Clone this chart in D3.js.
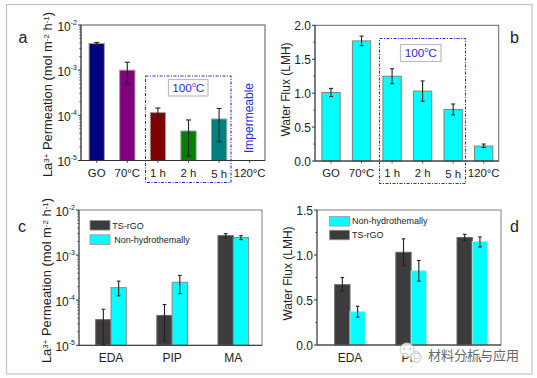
<!DOCTYPE html>
<html>
<head>
<meta charset="utf-8">
<script src="https://cdn.jsdelivr.net/npm/d3@7"></script>
<style>
  html, body { margin: 0; padding: 0; background: #fff; }
  svg { display: block; }
  text { font-family: "Liberation Sans", Arial, sans-serif; fill: #222; }
</style>
</head>
<body>
<svg id="fig" width="537" height="378"></svg>
<script>
const tempLabels = ["GO", "70\u00b0C", "1 h", "2 h", "5 h", "120\u00b0C"];
const tempColors = ["#000080", "#800080", "#800000", "#008000", "#008080"];

// panel a
const permValues = [3.9e-3, 1.0e-3, 1.15e-4, 4.5e-5, 8.3e-5];
const permLow = [3.7e-3, 5.0e-4, 8.7e-5, 1.25e-5, 2.6e-5];
const permHigh = [4.1e-3, 1.5e-3, 1.45e-4, 7.9e-5, 1.42e-4];

// panel b
const fluxValues = [1.01, 1.77, 1.25, 1.03, 0.76, 0.22];
const fluxLow = [0.95, 1.70, 1.14, 0.88, 0.68, 0.20];
const fluxHigh = [1.07, 1.84, 1.36, 1.18, 0.84, 0.25];

// panel c
const monomers = ["EDA", "PIP", "MA"];
const cRgo = [3.7e-5, 4.6e-5, 2.7e-3];
const cRgoLow = [1.05e-5, 1.25e-5, 2.4e-3];
const cRgoHigh = [6.3e-5, 8.0e-5, 3.0e-3];
const cNon = [1.9e-4, 2.5e-4, 2.45e-3];
const cNonLow = [1.25e-4, 1.4e-4, 2.2e-3];
const cNonHigh = [2.65e-4, 3.55e-4, 2.7e-3];

// panel d
const dRgo = [0.67, 1.03, 1.195];
const dRgoLow = [0.60, 0.88, 1.16];
const dRgoHigh = [0.75, 1.18, 1.23];
const dNon = [0.37, 0.825, 1.15];
const dNonLow = [0.31, 0.71, 1.09];
const dNonHigh = [0.43, 0.94, 1.20];

const cyan = "#00ffff";
const dark = "#3c3c3c";
const blue = "#2a2ae0";
const permLabel = [["La"], ["3+", 1], [" Permeation (mol m"], ["-2", 1], [" h"], ["-1", 1], [")"]];
const svg = d3.select("#fig");

svg.append("rect").attr("x", 6.5).attr("y", 4.5).attr("width", 525.5).attr("height", 369.5)
  .attr("fill", "none").attr("stroke", "#c4c4c4").attr("stroke-width", 1.2);

function superLabel(g, x, y, parts, size, rotate) {
  const t = g.append("text").attr("font-size", size)
    .attr("transform", `translate(${x},${y})` + (rotate ? " rotate(-90)" : ""))
    .attr("text-anchor", "middle");
  parts.forEach(p => {
    const s = t.append("tspan").text(p[0]);
    if (p[1]) s.attr("font-size", size * 0.62).attr("baseline-shift", "42%");
  });
  return t;
}

function ticks(g, y, x0, majors, minors) {
  g.selectAll(null).data(minors).join("line")
    .attr("x1", x0 - 1.8).attr("x2", x0)
    .attr("y1", d => y(d)).attr("y2", d => y(d))
    .attr("stroke", "#333").attr("stroke-width", 0.7);
  g.selectAll(null).data(majors).join("line")
    .attr("x1", x0 - 3).attr("x2", x0)
    .attr("y1", d => y(d)).attr("y2", d => y(d))
    .attr("stroke", "#333").attr("stroke-width", 1);
}

function logAxis(g, y, x0) {
  const majors = [1e-5, 1e-4, 1e-3, 1e-2];
  const minors = [];
  for (const m of majors.slice(0, 3)) for (let k = 2; k < 10; k++) minors.push(m * k);
  ticks(g, y, x0, majors, minors);
  majors.forEach(m => {
    const t = g.append("text").attr("x", x0 - 4).attr("y", y(m) + 5.5).attr("text-anchor", "end").attr("font-size", 12);
    t.append("tspan").text("10");
    t.append("tspan").text(Math.round(Math.log10(m))).attr("font-size", 7).attr("dy", -6);
  });
}

function linAxis(g, y, x0, majors, minors, fmt) {
  ticks(g, y, x0, majors, minors);
  g.selectAll("text.tick").data(majors).join("text")
    .attr("class", "tick")
    .attr("x", x0 - 4).attr("y", d => y(d) + 4.5)
    .attr("text-anchor", "end").attr("font-size", 12)
    .text(fmt);
}

function frame(g, x0, x1, y0, y1, color) {
  g.append("rect").attr("x", x0).attr("y", y1).attr("width", x1 - x0).attr("height", y0 - y1)
    .attr("fill", "none").attr("stroke", color).attr("stroke-width", 1);
  g.append("line").attr("x1", x0).attr("x2", x0).attr("y1", y0).attr("y2", y1).attr("stroke", "#444").attr("stroke-width", 1);
  g.append("line").attr("x1", x0).attr("x2", x1).attr("y1", y0).attr("y2", y0).attr("stroke", "#333").attr("stroke-width", 1);
}

function xTicks(g, xs, n, y0) {
  g.selectAll(null).data(d3.range(n)).join("line")
    .attr("x1", d => xs(d)).attr("x2", d => xs(d))
    .attr("y1", y0).attr("y2", y0 + 2.5)
    .attr("stroke", "#333").attr("stroke-width", 0.8);
}

function errors(g, xs, y, lows, highs, cap) {
  const sel = g.selectAll(null).data(lows.map((l, i) => ({ l, h: highs[i], x: xs(i) }))).join("g");
  sel.append("line").attr("x1", d => d.x).attr("x2", d => d.x).attr("y1", d => y(d.l)).attr("y2", d => y(d.h))
    .attr("stroke", "#222").attr("stroke-width", 1.1);
  [d => d.l, d => d.h].forEach(f => {
    sel.append("line").attr("x1", d => d.x - cap).attr("x2", d => d.x + cap)
      .attr("y1", d => y(f(d))).attr("y2", d => y(f(d)))
      .attr("stroke", "#222").attr("stroke-width", 1.1);
  });
}

function bars(g, xs, width, y, values, color, stroke) {
  g.selectAll(null).data(values).join("rect")
    .attr("x", (d, i) => xs(i) - width / 2).attr("width", width)
    .attr("y", d => y(d)).attr("height", d => y.range()[0] - y(d))
    .attr("fill", (d, i) => typeof color === "function" ? color(i) : color)
    .attr("stroke", stroke).attr("stroke-width", 1);
}

function xLabels(g, xs, labels, y, size) {
  g.selectAll(null).data(labels).join("text")
    .attr("x", (d, i) => xs(i)).attr("y", (d, i) => typeof y === "function" ? y(i) : y)
    .attr("text-anchor", "middle").attr("font-size", size).text(d => d);
}

function boxed(g, x, y, w, h) {
  g.append("rect").attr("x", x).attr("y", y).attr("width", w).attr("height", h)
    .attr("fill", "none").attr("stroke", blue).attr("stroke-width", 1.1).attr("stroke-dasharray", "3,1.5,1,1.5");
}

function tempTag(g, x, y, w, h) {
  g.append("rect").attr("x", x).attr("y", y).attr("width", w).attr("height", h)
    .attr("fill", "#fff").attr("stroke", "#bdbdbd").attr("stroke-width", 1.2);
  const t = g.append("text").attr("x", x + w / 2).attr("y", y + h - 4.5).attr("text-anchor", "middle").attr("font-size", 11.8);
  t.append("tspan").text("100").style("fill", blue);
  t.append("tspan").text("o").attr("font-size", 7).attr("dy", -5).style("fill", blue);
  t.append("tspan").text("C").attr("dy", 5).style("fill", blue);
}

function legend(g, x, items) {
  items.forEach(it => {
    g.append("rect").attr("x", x).attr("y", it.y).attr("width", 20).attr("height", 9.6)
      .attr("fill", it.color).attr("stroke", "#999").attr("stroke-width", 0.8);
    g.append("text").attr("x", x + it.tx).attr("y", it.y + it.by).attr("font-size", 9).text(it.label);
  });
}

// panel a
{
  const g = svg.append("g");
  const x0 = 81, x1 = 265, y0 = 160.5, y1 = 25;
  const y = d3.scaleLog().domain([1e-5, 1e-2]).range([y0, y1]);
  const xs = d3.scaleLinear().domain([0, 5]).range([96.7, 249.7]);
  bars(g, xs, 15.3, y, permValues, i => tempColors[i], "#a0a0a0");
  frame(g, x0, x1, y0, y1, "#555");
  logAxis(g, y, x0);
  xTicks(g, xs, 6, y0);
  errors(g, xs, y, permLow, permHigh, 2.5);
  xLabels(g, xs, tempLabels, i => i === 4 ? 177.5 : 176.5, 11.4);
  boxed(g, 145.5, 76, 85.5, 106.5);
  tempTag(g, 168.5, 79.5, 39.5, 16.5);
  g.append("text").attr("transform", "translate(252.5,118) rotate(-90)").attr("text-anchor", "middle")
    .attr("font-size", 12).style("fill", blue).text("Impermeable");
  superLabel(g, 52, 94.5, permLabel, 12.9, true);
  g.append("text").attr("x", 18.5).attr("y", 43).attr("font-size", 16).text("a");
}

// panel b
{
  const g = svg.append("g");
  const x0 = 315, x1 = 498.7, y0 = 161, y1 = 25.3;
  const y = d3.scaleLinear().domain([0, 2]).range([y0, y1]);
  const xs = d3.scaleLinear().domain([0, 5]).range([331, 483.7]);
  bars(g, xs, 18.3, y, fluxValues, cyan, "#808080");
  frame(g, x0, x1, y0, y1, "#666");
  linAxis(g, y, x0, [0, 0.5, 1, 1.5, 2], [0.25, 0.75, 1.25, 1.75], d3.format(".1f"));
  xTicks(g, xs, 6, y0);
  errors(g, xs, y, fluxLow, fluxHigh, 2);
  xLabels(g, xs, tempLabels, i => i === 4 ? 178 : 177, 11.4);
  boxed(g, 379.5, 38.5, 86, 145);
  tempTag(g, 400.5, 44.5, 40.5, 17);
  superLabel(g, 290, 89.5, [["Water Flux (LMH)"]], 12, true);
  g.append("text").attr("x", 510).attr("y", 43).attr("font-size", 16).text("b");
}

// panel c
{
  const g = svg.append("g");
  const x0 = 79, x1 = 262, y0 = 345.3, y1 = 210;
  const y = d3.scaleLog().domain([1e-5, 1e-2]).range([y0, y1]);
  const xs = d3.scaleLinear().domain([0, 2]).range([111, 233.3]);
  const w = 15.3;
  const xa = i => xs(i) - w / 2, xb = i => xs(i) + w / 2;
  bars(g, xa, w, y, cRgo, dark, "#666");
  bars(g, xb, w, y, cNon, cyan, "#8a8a8a");
  frame(g, x0, x1, y0, y1, "#808080");
  logAxis(g, y, x0);
  errors(g, xa, y, cRgoLow, cRgoHigh, 1.8);
  errors(g, xb, y, cNonLow, cNonHigh, 1.8);
  xLabels(g, xs, monomers, 361.5, 12);
  legend(g, 90, [
    { y: 220.5, color: dark, label: "TS-rGO", tx: 22.3, by: 8.2 },
    { y: 234.8, color: cyan, label: "Non-hydrothemally", tx: 24.3, by: 8.2 }
  ]);
  superLabel(g, 50.5, 280.5, permLabel, 12.9, true);
  g.append("text").attr("x", 18).attr("y", 231.5).attr("font-size", 16).text("c");
}

// panel d
{
  const g = svg.append("g");
  const x0 = 317, x1 = 501, y0 = 345, y1 = 210;
  const y = d3.scaleLinear().domain([0, 1.5]).range([y0, y1]);
  const xs = d3.scaleLinear().domain([0, 2]).range([350, 472.3]);
  const w = 15.3;
  const xa = i => xs(i) - w / 2, xb = i => xs(i) + w / 2;
  bars(g, xa, w, y, dRgo, dark, "#666");
  bars(g, xb, w, y, dNon, cyan, "#a8e8e8");
  frame(g, x0, x1, y0, y1, "#808080");
  linAxis(g, y, x0, [0, 0.5, 1, 1.5], [0.25, 0.75, 1.25], d3.format(".1f"));
  errors(g, xa, y, dRgoLow, dRgoHigh, 1.8);
  errors(g, xb, y, dNonLow, dNonHigh, 1.8);
  xLabels(g, xs, monomers, 361.5, 12);
  legend(g, 329.5, [
    { y: 216.5, color: cyan, label: "Non-hydrothemally", tx: 22.5, by: 7.7 },
    { y: 230.2, color: dark, label: "TS-rGO", tx: 22.5, by: 7.9 }
  ]);
  superLabel(g, 292, 273.5, [["Water Flux (LMH)"]], 12, true);
  g.append("text").attr("x", 510).attr("y", 232).attr("font-size", 16).text("d");

  // watermark sits on top of the x labels, as in the original
  g.append("text").attr("x", 428).attr("y", 360).attr("font-size", 13)
    .style("font-family", "'Noto Sans CJK SC'").style("fill", "#666")
    .attr("stroke", "#fff").attr("stroke-width", 2).attr("paint-order", "stroke")
    .text("材料分析与应用");
  g.append("circle").attr("cx", 407).attr("cy", 350).attr("r", 7).attr("fill", "#fff").attr("fill-opacity", 0.8).attr("stroke", "#c8c8c8");
  g.append("circle").attr("cx", 416).attr("cy", 357).attr("r", 5.3).attr("fill", "#fff").attr("fill-opacity", 0.8).attr("stroke", "#c8c8c8");
  g.selectAll(null).data([[404, 349], [410, 349]]).join("circle")
    .attr("cx", d => d[0]).attr("cy", d => d[1]).attr("r", 0.9).attr("fill", "#bbb");
}
</script>
</body>
</html>
